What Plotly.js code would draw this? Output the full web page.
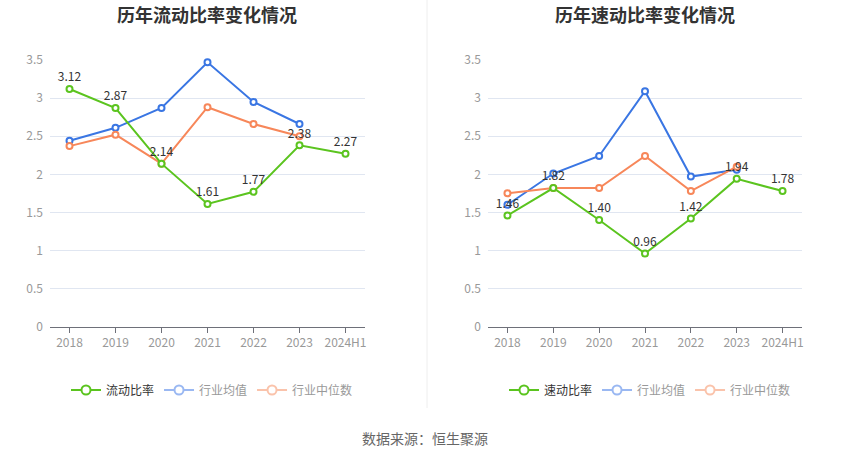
<!DOCTYPE html>
<html>
<head>
<meta charset="utf-8">
<script src="https://cdn.plot.ly/plotly-3.0.1.min.js"></script>
<style>html,body{margin:0;padding:0;background:#fff;}#chart{width:850px;height:459px;}</style>
</head>
<body>
<div id="chart"></div>
<script>
const categories = ['2018','2019','2020','2021','2022','2023','2024H1'];
const currentRatio = [3.12, 2.87, 2.14, 1.61, 1.77, 2.38, 2.27];
const currentIndustryMean = [2.44, 2.61, 2.87, 3.47, 2.95, 2.66, null];
const currentIndustryMedian = [2.37, 2.52, 2.14, 2.88, 2.66, 2.50, null];
const quickRatio = [1.46, 1.82, 1.40, 0.96, 1.42, 1.94, 1.78];
const quickIndustryMean = [1.60, 2.01, 2.24, 3.09, 1.97, 2.06, null];
const quickIndustryMedian = [1.75, 1.82, 1.82, 2.24, 1.78, 2.10, null];
const yTicks = [0, 0.5, 1, 1.5, 2, 2.5, 3, 3.5];
const yTickText = ['0','0.5','1','1.5','2','2.5','3','3.5'];

const GREEN = '#5bc41f', BLUE = '#3a76e3', ORANGE = '#f7875a';
const BLUE_L = '#9ab8f2', ORANGE_L = '#fac3ab';
const FONT = '"Noto Sans CJK SC", "Noto Sans", sans-serif';

function line(y, color, xa, ya, withText) {
  const t = {
    x: categories, y: y, xaxis: xa, yaxis: ya, type: 'scatter',
    mode: withText ? 'lines+markers+text' : 'lines+markers',
    line: {color: color, width: 2},
    marker: {symbol: 'circle', size: 6, color: '#fff', line: {color: color, width: 2}},
    showlegend: false, hoverinfo: 'x+y', cliponaxis: false
  };
  if (withText) {
    t.text = y.map(v => v.toFixed(2));
    t.textposition = 'top center';
    t.textfont = {size: 12, color: '#333', family: FONT};
  }
  return t;
}
function legendItem(name, color, lg, faded) {
  return {
    x: [null], y: [null], type: 'scatter', mode: 'lines+markers',
    name: faded ? '<span style="color:#999">' + name + '</span>' : name,
    line: {color: color, width: 2},
    marker: {symbol: 'circle', size: 9, color: '#fff', line: {color: color, width: 2}},
    legend: lg, showlegend: true, hoverinfo: 'skip'
  };
}

const data = [
  line(currentIndustryMean, BLUE, 'x', 'y', false),
  line(currentIndustryMedian, ORANGE, 'x', 'y', false),
  line(currentRatio, GREEN, 'x', 'y', true),
  line(quickIndustryMean, BLUE, 'x2', 'y2', false),
  line(quickIndustryMedian, ORANGE, 'x2', 'y2', false),
  line(quickRatio, GREEN, 'x2', 'y2', true),
  legendItem('流动比率', GREEN, 'legend', false),
  legendItem('行业均值', BLUE_L, 'legend', true),
  legendItem('行业中位数', ORANGE_L, 'legend', true),
  legendItem('速动比率', GREEN, 'legend2', false),
  legendItem('行业均值', BLUE_L, 'legend2', true),
  legendItem('行业中位数', ORANGE_L, 'legend2', true)
];

const xBase = {
  type: 'category', showgrid: false, zeroline: false, showline: true,
  linecolor: '#6e7079', linewidth: 1, ticks: 'outside', ticklen: 5, tickcolor: '#6e7079',
  tickfont: {size: 12, color: '#999', family: FONT}, fixedrange: true
};
const yBase = {
  range: [0, 3.5], tickvals: yTicks, ticktext: yTickText, showgrid: true,
  gridcolor: '#e0e6f1', gridwidth: 1, zeroline: false, showline: false, ticks: '',
  ticklabelstandoff: 6,
  tickfont: {size: 12, color: '#999', family: FONT}, fixedrange: true
};
const yDom = [1 - 326.7/459, 1 - 60/459];

const layout = {
  width: 850, height: 459,
  margin: {l: 0, r: 0, t: 0, b: 0},
  paper_bgcolor: '#fff', plot_bgcolor: '#fff',
  font: {family: FONT},
  xaxis: Object.assign({}, xBase, {domain: [50/850, 365/850], anchor: 'y'}),
  yaxis: Object.assign({}, yBase, {domain: yDom, anchor: 'x'}),
  xaxis2: Object.assign({}, xBase, {domain: [488/850, 802/850], anchor: 'y2'}),
  yaxis2: Object.assign({}, yBase, {domain: yDom, anchor: 'x2'}),
  legend: {orientation: 'h', x: 66/850, xanchor: 'left', y: 1 - 390/459, yanchor: 'middle',
    font: {size: 12, color: '#333', family: FONT}, itemwidth: 30, bgcolor: 'rgba(0,0,0,0)'},
  legend2: {orientation: 'h', x: 504/850, xanchor: 'left', y: 1 - 390/459, yanchor: 'middle',
    font: {size: 12, color: '#333', family: FONT}, itemwidth: 30, bgcolor: 'rgba(0,0,0,0)'},
  annotations: [
    {text: '<b>历年流动比率变化情况</b>', x: 207/850, y: 1 - 14/459, xref: 'paper', yref: 'paper',
      xanchor: 'center', yanchor: 'middle', showarrow: false, font: {size: 18, color: '#333', family: FONT}},
    {text: '<b>历年速动比率变化情况</b>', x: 645/850, y: 1 - 14/459, xref: 'paper', yref: 'paper',
      xanchor: 'center', yanchor: 'middle', showarrow: false, font: {size: 18, color: '#333', family: FONT}},
    {text: '数据来源：恒生聚源', x: 0.5, y: 1 - 438/459, xref: 'paper', yref: 'paper',
      xanchor: 'center', yanchor: 'middle', showarrow: false, font: {size: 14, color: '#666', family: FONT}}
  ],
  shapes: [
    {type: 'line', xref: 'paper', yref: 'paper', x0: 427/850, x1: 427/850, y0: 1 - 408/459, y1: 1,
      line: {color: '#eeeeee', width: 1}}
  ]
};

Plotly.newPlot('chart', data, layout, {displayModeBar: false, staticPlot: true});
</script>
</body>
</html>
